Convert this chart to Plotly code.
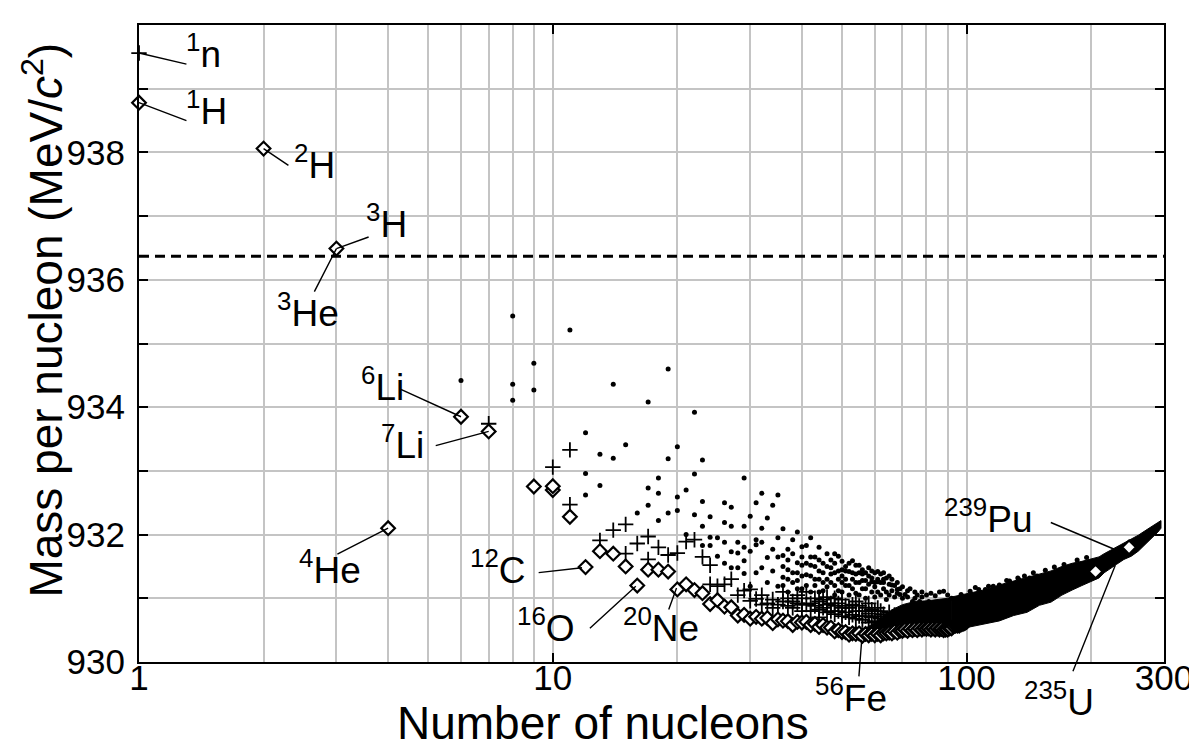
import math
import plotly.graph_objects as go

# ---------------- data ----------------
# stable / very long lived nuclides -> open diamonds
stable_A = [1, 2, 3, 4, 6, 7, 9, 10, 10, 11, 12, 13, 14, 15, 16, 17, 18, 19, 20, 21, 22, 23,
            24, 25, 26, 27, 28, 29, 30, 31, 32, 33, 34, 35, 36, 37, 38, 39, 40, 41, 42, 43,
            44, 45, 46, 47, 48, 49, 50, 51, 52, 53, 54, 55, 56, 57, 58, 59, 60, 61, 62, 63,
            64, 65, 66, 67, 68, 69, 70, 71, 72, 73, 74, 75, 76, 77, 78, 79, 80, 81, 82, 83,
            84, 85, 86, 87, 88, 89, 90, 91, 92, 93, 94, 95, 96, 97, 98, 99, 100, 205, 247]
stable_M = [938.78, 938.06, 936.49, 932.10, 933.85, 933.62, 932.755, 932.70, 932.76, 932.28,
            931.49, 931.74, 931.70, 931.50, 931.20, 931.45, 931.45, 931.42, 931.14, 931.22,
            931.13, 931.08, 930.91, 930.97, 930.87, 930.86, 930.73, 930.74, 930.68, 930.71,
            930.68, 930.69, 930.61, 930.67, 930.65, 930.64, 930.58, 930.63, 930.62, 930.63,
            930.58, 930.60, 930.55, 930.58, 930.54, 930.54, 930.48, 930.50, 930.47, 930.47,
            930.43, 930.45, 930.44, 930.45, 930.41, 930.44, 930.42, 930.44, 930.42, 930.44,
            930.42, 930.45, 930.45, 930.46, 930.45, 930.48, 930.46, 930.49, 930.49, 930.51,
            930.49, 930.52, 930.50, 930.52, 930.50, 930.53, 930.51, 930.53, 930.52, 930.53,
            930.51, 930.53, 930.51, 930.53, 930.51, 930.52, 930.50, 930.51, 930.51, 930.53,
            930.53, 930.56, 930.57, 930.57, 930.57, 930.59, 930.60, 930.61, 930.63,
            931.42, 931.80]

# long-lived radioactive nuclides -> plus signs
plus_A = [1, 7, 10, 11, 11, 13, 14, 15, 15, 16, 17, 17, 18, 19, 20, 21, 22, 23, 24, 24, 25, 26,
          27, 28, 29, 30, 30, 31, 32, 32, 33, 34, 34, 35, 36, 36, 37, 37, 38, 38, 39, 39, 40,
          40, 41, 41, 42, 43, 43, 44, 44, 45, 46, 46, 47, 47, 48, 48, 49, 50, 50, 51, 52, 52,
          53, 54, 54, 55, 56, 56, 57, 58, 58, 59, 60, 60, 61, 62, 63, 64, 65, 66, 67, 68,
          40, 42, 44, 45, 46, 48, 49, 50, 51, 53, 54, 55, 57, 58, 59, 61, 62]
plus_M = [939.56, 933.74, 933.06, 933.33, 932.47, 931.91, 932.07, 932.16, 931.70, 931.86,
          931.97, 931.61, 931.80, 931.68, 931.71, 931.89, 931.92, 931.65, 931.52, 931.22,
          931.19, 931.22, 931.30, 931.05, 931.12, 930.96, 931.14, 930.99, 931.05, 930.90,
          930.92, 930.98, 930.85, 930.90, 930.95, 931.10, 930.88, 931.00, 930.85, 930.95,
          930.92, 931.05, 930.90, 930.80, 931.10, 930.90, 930.92, 930.88, 931.00, 930.82,
          930.95, 930.85, 930.90, 930.78, 930.80, 930.92, 930.75, 930.88, 930.80, 930.85,
          930.72, 930.78, 930.70, 930.85, 930.74, 930.80, 930.68, 930.72, 930.66, 930.80,
          930.72, 930.62, 930.76, 930.70, 930.64, 930.80, 930.72, 930.68, 930.75, 930.65,
          930.78, 930.70, 930.74, 930.70,
          931.00, 930.80, 930.70, 930.98, 931.02, 931.00, 930.92, 930.98, 930.88, 930.90,
          930.95, 930.88, 930.85, 930.92, 930.82, 930.85, 930.80]

# short-lived nuclides -> dots
dot_A = [6, 8, 8, 8, 9, 9, 11, 12, 12, 12, 13, 13, 14, 14, 15, 16, 17, 17, 17, 18, 18, 18,
         19, 19, 19, 20, 20, 20, 21, 21, 22, 22, 22, 23, 23, 23, 23, 24, 24, 24, 25, 25,
         26, 26, 26, 26, 27, 27, 27, 27, 28, 28, 28, 29, 29, 29, 29, 29, 30, 30, 30,
         31, 31, 31, 31, 32, 32, 32, 32, 33, 33, 33, 34, 34, 34, 35, 35, 35, 35, 36, 36, 36,
         37, 37, 38, 38, 39, 39, 39, 40, 40, 41, 41, 42, 42, 42, 43, 43, 44, 44, 45, 45,
         46, 46, 47, 47, 48, 48, 49, 49, 50, 50, 51, 51, 52, 53, 53, 54, 54, 55, 56, 56,
         57, 58, 59, 59, 60, 61, 61, 62, 63, 63, 65, 66, 68, 69, 71, 74, 77, 81, 88, 92,
         97, 102, 105, 107, 111, 113, 116, 120, 125, 127, 133, 134, 138, 142, 145, 148,
         155, 163, 172, 185, 195,
         36, 36, 37, 37, 37, 38, 38, 39, 39, 40, 40, 40, 41, 41, 42, 42, 43, 43, 44, 44, 44,
         45, 45, 46, 46, 47, 47, 48, 48, 48, 49, 49, 50, 50, 50, 51, 51, 52, 52, 52, 53, 53,
         54, 54, 55, 55, 55, 56, 56, 57, 57, 57, 58, 58, 59, 59, 60, 60, 60, 61, 61, 62, 62,
         63, 63, 64, 64, 64, 65, 65, 66, 66, 67, 67, 68, 68, 69, 70, 70, 72, 72, 73, 75, 75,
         76, 78, 78, 80, 82, 84, 86, 90]
dot_M = [934.42, 935.43, 934.36, 934.11, 934.69, 934.27, 935.21, 933.60, 932.96, 932.62,
         933.26, 932.77, 934.36, 933.20, 933.41, 932.34, 934.08, 932.73, 932.46, 932.89,
         932.65, 932.22, 934.60, 933.19, 932.34, 933.38, 932.59, 932.38, 932.70, 932.00,
         933.92, 932.95, 932.31, 933.17, 932.52, 932.13, 931.83, 932.28, 931.96, 931.83,
         931.95, 931.66, 932.50, 932.19, 931.88, 931.55, 932.43, 932.13, 931.73, 931.48,
         931.88, 931.71, 931.48, 932.89, 932.13, 931.80, 931.59, 931.39, 932.29, 931.74,
         931.19, 932.50, 931.92, 931.84, 931.40, 932.65, 932.10, 931.88, 931.48, 932.26,
         931.64, 931.25, 932.46, 931.77, 931.43, 932.62, 931.95, 931.65, 931.19, 932.09,
         931.67, 931.33, 931.77, 931.45, 931.92, 931.40, 932.04, 931.56, 931.28, 931.81,
         931.52, 931.83, 931.37, 931.95, 931.65, 931.52, 931.65, 931.30, 931.80, 931.43,
         931.55, 931.25, 931.70, 931.30, 931.60, 931.38, 931.70, 931.40, 931.66, 931.43,
         931.45, 931.25, 931.43, 931.20, 931.42, 931.59, 931.30, 931.52, 931.25, 931.40,
         931.38, 931.15, 931.28, 931.35, 931.43, 931.26, 931.25, 931.26, 931.42, 931.38,
         931.40, 931.25, 931.35, 931.21, 931.14, 931.06, 931.06, 930.95, 930.95, 930.95,
         931.11, 931.00, 931.06, 931.11, 931.17, 931.14, 931.14, 931.19, 931.19, 931.21,
         931.28, 931.27, 931.32, 931.29, 931.35, 931.32, 931.40, 931.35, 931.44, 931.49,
         931.53, 931.60, 931.64,
         931.50, 931.20, 931.60, 931.30, 931.10, 931.70, 931.25, 931.40, 931.15, 931.65,
         931.35, 931.15, 931.55, 931.20, 931.35, 931.10, 931.50, 931.20, 931.60, 931.30,
         931.10, 931.40, 931.12, 931.50, 931.18, 931.48, 931.25, 931.55, 931.20, 931.05,
         931.30, 931.12, 931.58, 931.35, 931.10, 931.50, 931.30, 931.55, 931.20, 931.05,
         931.40, 931.15, 931.38, 931.08, 931.52, 931.25, 931.05, 931.45, 931.28, 931.40,
         931.15, 931.00, 931.48, 931.22, 931.32, 931.10, 931.40, 931.18, 931.02, 931.30,
         931.10, 931.25, 931.05, 931.30, 931.15, 931.32, 931.10, 930.98, 931.22, 931.05,
         931.30, 931.12, 931.20, 931.02, 931.25, 931.08, 931.15, 931.18, 931.00, 931.12,
         931.02, 931.15, 931.10, 931.00, 931.05, 931.10, 931.02, 931.05, 931.08, 931.04,
         931.10, 931.05]

# dense region of heavier nuclides: upper and lower envelope
band_A = [56, 60, 63, 66, 70, 75, 80, 85, 90, 92, 95, 100, 110, 120, 130, 140, 150, 160, 170,
          180, 190, 200, 209, 215, 222, 230, 240, 250, 260, 270, 280, 290, 295]
band_upper = [930.50, 930.62, 930.72, 930.82, 930.90, 930.95, 930.96, 930.98, 931.00, 931.02,
              931.04, 931.07, 931.13, 931.21, 931.27, 931.32, 931.37, 931.43, 931.50, 931.55,
              931.58, 931.62, 931.65, 931.70, 931.75, 931.80, 931.86, 931.93, 931.99, 932.06,
              932.12, 932.19, 932.22]
band_lower = [930.45, 930.44, 930.45, 930.45, 930.49, 930.52, 930.52, 930.53, 930.51, 930.45,
              930.48, 930.54, 930.59, 930.645, 930.73, 930.78, 930.89, 930.94, 931.05, 931.13,
              931.20, 931.26, 931.32, 931.40, 931.46, 931.53, 931.61, 931.66, 931.74, 931.84,
              931.94, 932.04, 932.10]

ref_level = 936.37  # dashed horizontal line

# labels: text, marker point (A, M), leader end (A, M), text anchor (A, M)
labels = [
    ("<sup>1</sup>n",    (1.0, 939.56),   (1.311, 939.38), (1.283, 939.59)),
    ("<sup>1</sup>H",    (1.0, 938.78),   (1.311, 938.49), (1.283, 938.69)),
    ("<sup>2</sup>H",    (2.0, 938.06),   (2.314, 937.78), (2.343, 937.84)),
    ("<sup>3</sup>H",    (3.0, 936.49),   (3.615, 936.68), (3.49, 936.92)),
    ("<sup>3</sup>He",   (3.0, 936.49),   (2.644, 935.79), (2.134, 935.52)),
    ("<sup>6</sup>Li",   (6.0, 933.85),   (4.267, 934.29), (3.396, 934.36)),
    ("<sup>7</sup>Li",   (7.0, 933.62),   (5.179, 933.39), (3.795, 933.44)),
    ("<sup>4</sup>He",   (4.0, 932.10),   (2.996, 931.68), (2.409, 931.48)),
    ("<sup>12</sup>C",   (11.77, 931.48), (9.18, 931.40),  (6.24, 931.48)),
    ("<sup>16</sup>O",   (15.87, 931.19), (12.21, 930.51), (8.09, 930.58)),
    ("<sup>20</sup>Ne",  (19.91, 931.16), (19.01, 930.80), (14.62, 930.58)),
    ("<sup>56</sup>Fe",  (55.8, 930.35),  (54.9, 929.75),  (42.5, 929.47)),
    ("<sup>235</sup>U",  (228.8, 931.52), (180.4, 929.83), (136.0, 929.41)),
    ("<sup>239</sup>Pu", (227.5, 931.77), (158.8, 932.20), (87.3, 932.28)),
]

x_major = [1, 10, 100, 300]
x_minor = [2, 3, 4, 5, 6, 7, 8, 9, 20, 30, 40, 50, 60, 70, 80, 90, 200]
X_MIN, X_MAX = 1, 300
Y_MIN, Y_MAX = 930, 940

FONT = "Liberation Sans, Arial, Helvetica, sans-serif"
GRID = "#c4c4c4"

W, H = 1197, 755
M_L, M_R, M_T, M_B = 131, 35, 17, 101
PLOT_W, PLOT_H = W - M_L - M_R, H - M_T - M_B


def to_paper(a, m):
    """convert a data position (A, M) to paper coordinates"""
    px = (math.log10(a) - math.log10(X_MIN)) / (math.log10(X_MAX) - math.log10(X_MIN))
    py = (m - Y_MIN) / (Y_MAX - Y_MIN)
    return px, py


SPLIT_A = 92  # part of the dense band drawn above the diamonds

# ---------------- figure ----------------
fig = go.Figure()


def band_trace(sel):
    a = [band_A[i] for i in sel]
    u = [band_upper[i] for i in sel]
    lo = [band_lower[i] for i in sel]
    return go.Scatter(x=a + a[::-1], y=u + lo[::-1], mode="lines", fill="toself",
                      fillcolor="black", line=dict(color="black", width=1),
                      hoverinfo="skip", showlegend=False)


fig.add_trace(band_trace([i for i, a in enumerate(band_A) if a <= SPLIT_A]))

fig.add_trace(go.Scatter(
    x=dot_A, y=dot_M, mode="markers", cliponaxis=False, showlegend=False,
    marker=dict(symbol="circle", size=5, color="black", line=dict(width=0))))

fig.add_trace(go.Scatter(
    x=plus_A, y=plus_M, mode="markers", cliponaxis=False, showlegend=False,
    marker=dict(symbol="cross-thin", size=11, color="black",
                line=dict(color="black", width=1.8))))

diamond_marker = dict(symbol="diamond", size=10.5, color="white",
                      line=dict(color="black", width=2.2))
low = [i for i, a in enumerate(stable_A) if a <= 100]
high = [i for i, a in enumerate(stable_A) if a > 100]
fig.add_trace(go.Scatter(
    x=[stable_A[i] for i in low], y=[stable_M[i] for i in low], mode="markers",
    cliponaxis=False, showlegend=False, marker=diamond_marker))

fig.add_trace(band_trace([i for i, a in enumerate(band_A) if a >= SPLIT_A]))

fig.add_trace(go.Scatter(
    x=[stable_A[i] for i in high], y=[stable_M[i] for i in high], mode="markers",
    cliponaxis=False, showlegend=False, marker=diamond_marker))

annotations = []
for text, (pa, pm), (ea, em), (ta, tm) in labels:
    hx, hy = to_paper(pa, pm)
    ex, ey = to_paper(ea, em)
    tx, ty = to_paper(ta, tm)
    annotations.append(dict(
        x=hx, y=hy, xref="paper", yref="paper",
        ax=(ex - hx) * PLOT_W, ay=-(ey - hy) * PLOT_H, axref="pixel", ayref="pixel",
        text="", showarrow=True, arrowhead=0, arrowwidth=1.4,
        arrowcolor="black", standoff=0, startstandoff=0))
    annotations.append(dict(
        x=tx, y=ty, xref="paper", yref="paper", text=text,
        showarrow=False, xanchor="left", yanchor="middle",
        font=dict(family=FONT, size=37, color="black")))

# axis titles
annotations.append(dict(x=0.453, y=-0.096, xref="paper", yref="paper",
                        text="Number of nucleons", showarrow=False,
                        xanchor="center", yanchor="middle",
                        font=dict(family=FONT, size=46, color="black")))
annotations.append(dict(x=-0.094, y=0.537, xref="paper", yref="paper",
                        text="Mass per nucleon (MeV/<i>c</i><sup>2</sup>)", textangle=-90,
                        showarrow=False, xanchor="center", yanchor="middle",
                        font=dict(family=FONT, size=46, color="black")))

fig.update_layout(
    width=W, height=H,
    margin=dict(l=M_L, r=M_R, t=M_T, b=M_B),
    paper_bgcolor="white", plot_bgcolor="white",
    font=dict(family=FONT, color="black"),
    annotations=annotations,
    shapes=[dict(type="line", xref="paper", yref="y", x0=0, x1=1,
                 y0=ref_level, y1=ref_level,
                 line=dict(color="black", width=3, dash="10px,6px"))],
)

fig.update_xaxes(
    type="log", range=[math.log10(X_MIN), math.log10(X_MAX)],
    tickvals=x_major, ticktext=[str(v) for v in x_major],
    ticks="inside", ticklen=9, tickwidth=2, tickcolor="black",
    tickfont=dict(family=FONT, size=35), ticklabelstandoff=-16,
    showgrid=True, gridcolor=GRID, gridwidth=1.5,
    minor=dict(tickvals=x_minor, showgrid=True, gridcolor=GRID, gridwidth=1.5, ticks=""),
    showline=True, linecolor="black", linewidth=2, mirror="ticks",
    zeroline=False,
)

fig.update_yaxes(
    range=[Y_MIN, Y_MAX], tickvals=[930, 932, 934, 936, 938, 940],
    ticks="inside", ticklen=9, tickwidth=2, tickcolor="black",
    tickfont=dict(family=FONT, size=35), ticklabelstandoff=5,
    showgrid=True, gridcolor=GRID, gridwidth=1.5,
    minor=dict(dtick=1, tick0=930, showgrid=True, gridcolor=GRID, gridwidth=1.5,
               ticks="inside", ticklen=9, tickwidth=2, tickcolor="black"),
    showline=True, linecolor="black", linewidth=2, mirror="ticks",
    zeroline=False,
)

fig.write_html("out.html")
